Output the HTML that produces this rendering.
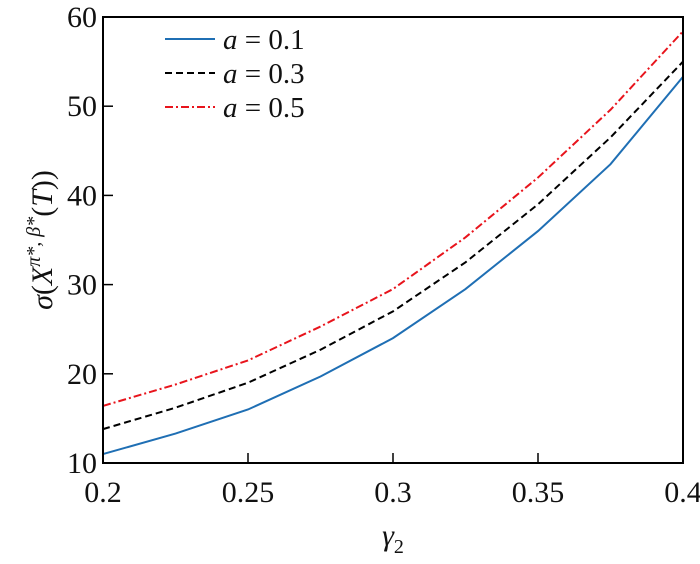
<!DOCTYPE html>
<html><head><meta charset="utf-8"><style>
body{margin:0;background:#fff}
text{font-family:"Liberation Serif",serif;fill:#111}
</style></head><body>
<svg width="700" height="559" id="svg">
<g id="plot"></g>
</svg>
<script>
const xs=[0.2,0.225,0.25,0.275,0.3,0.325,0.35,0.375,0.4];
const seriesA1=[11,13.3,16,19.7,24,29.5,36,43.5,53.3];
const seriesA3=[13.8,16.2,19,22.7,27,32.5,39,46.5,55];
const seriesA5=[16.4,18.8,21.5,25.3,29.5,35.3,42,49.6,58.4];
const xTicks=[0.2,0.25,0.3,0.35,0.4];
const xTickLabels=["0.2","0.25","0.3","0.35","0.4"];
const yTicks=[10,20,30,40,50,60];
const legendLabels=["a = 0.1","a = 0.3","a = 0.5"];

const L=103,R=683,T=17,B=463;
const X=v=>L+(v-0.2)/0.2*(R-L);
const Y=v=>B-(v-10)/50*(B-T);
const NS="http://www.w3.org/2000/svg";
const g=document.getElementById('plot');
function mk(t,a){const e=document.createElementNS(NS,t);for(const k in a)e.setAttribute(k,a[k]);g.appendChild(e);return e;}

const series=[[seriesA1,"#1f6fb4","none"],[seriesA3,"#000","7,4"],[seriesA5,"#e8141c","8,3,2,3"]];
series.forEach((s,i)=>{
  const p=mk('polyline',{points:xs.map((x,j)=>X(x)+","+Y(s[0][j])).join(" "),fill:"none",stroke:s[1],"stroke-width":2,"stroke-dasharray":s[2]});
  
  
});
const frame=mk('rect',{x:L,y:T,width:R-L,height:B-T,fill:"none",stroke:"#000","stroke-width":2});


xTicks.forEach((v,i)=>{
  const t=mk('line',{x1:X(v),x2:X(v),y1:B,y2:B-10,stroke:"#000","stroke-width":1.5});
  
  
  const tx=mk('text',{x:X(v),y:B+39,"text-anchor":"middle","font-size":30});
  tx.textContent=xTickLabels[i];
  
  
});
yTicks.forEach(v=>{
  const t=mk('line',{x1:L,x2:L+10,y1:Y(v),y2:Y(v),stroke:"#000","stroke-width":1.5});
  
  
  const tx=mk('text',{x:L-6,y:Y(v)+10,"text-anchor":"end","font-size":30});
  tx.textContent=v;
  
  
});
const xl=mk('text',{x:393,y:545,"text-anchor":"middle","font-size":30,"font-style":"italic"});
xl.innerHTML='γ<tspan font-size="20" font-style="normal" dy="8">2</tspan>';


const yl=mk('text',{x:0,y:0,"text-anchor":"middle","font-size":30,transform:"translate(52,240) rotate(-90)"});
yl.innerHTML='<tspan font-style="italic">σ</tspan>(<tspan font-style="italic">X</tspan><tspan font-size="20" dy="-12" font-style="italic">π*, β*</tspan><tspan dy="12">(</tspan><tspan font-style="italic">T</tspan>))';


series.forEach((s,i)=>{
  const yy=39+i*34;
  const l=mk('line',{x1:165,x2:215,y1:yy,y2:yy,stroke:s[1],"stroke-width":2,"stroke-dasharray":s[2]});
  
  
  const t=mk('text',{x:223,y:yy+10,"font-size":29});
  t.innerHTML='<tspan font-style="italic">a</tspan> = '+legendLabels[i].split('= ')[1];
  
  
});
</script>
</body></html>
